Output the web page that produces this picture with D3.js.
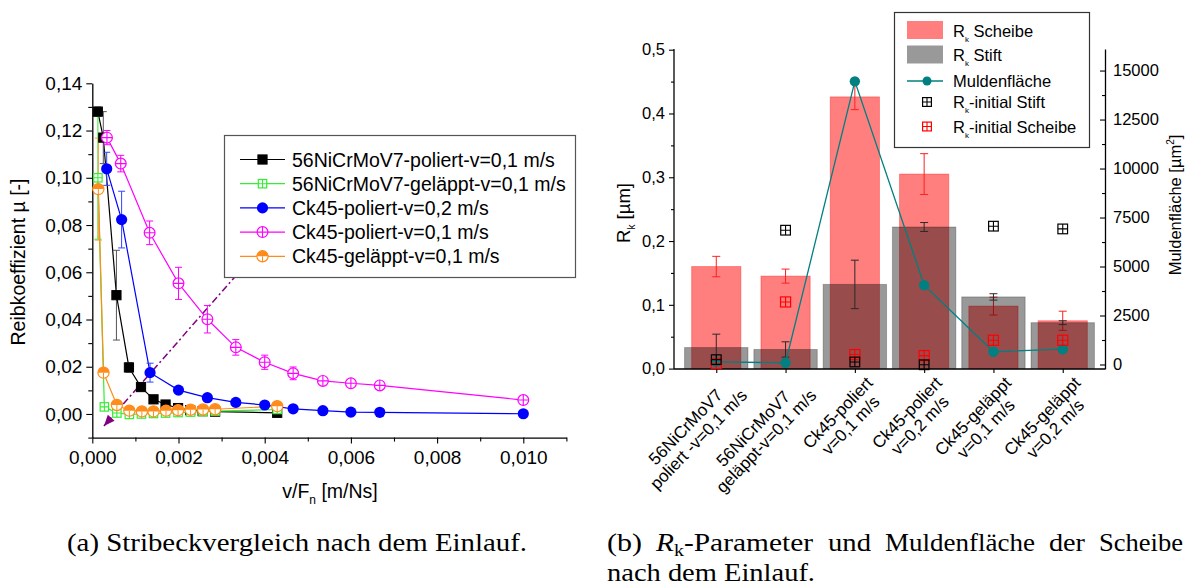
<!DOCTYPE html>
<html><head><meta charset="utf-8">
<script src="https://cdn.jsdelivr.net/npm/d3@7"></script>
<style>
body{margin:0;background:#fff}
svg{display:block}
text{font-family:"Liberation Sans",Arial,sans-serif;fill:#000}
</style>
</head><body>
<svg id="fig" width="1189" height="588"></svg>
<script>
// ---------- (a) Stribeck curves: x = v/Fn [m/Ns], y = friction coefficient ----------
const niPoliertX   = [0.000128,0.000255,0.00056,0.00085,0.00113,0.00142,0.0017,0.00199,0.00227,0.00256,0.00285,0.00429];
const niPoliertY   = [0.128,0.117,0.0503,0.0197,0.0114,0.0062,0.004,0.0025,0.0016,0.0012,0.001,0.0005];
const niPoliertErr = [0.002,0.011,0.019,0.002,0,0,0,0,0,0,0,0];

const niGelapptX   = [0.00013,0.00028,0.00057,0.00086,0.00114,0.00142,0.0017,0.00199,0.00228,0.00257,0.00285,0.00429];
const niGelapptY   = [0.1,0.003,0.0004,-0.0002,0.0,0.0002,0.0004,0.0006,0.0008,0.001,0.0012,0.0019];
const niGelapptErr = [0.026,0.001,0,0,0,0,0,0,0,0,0,0];

const ckPol02X   = [0.000334,0.00068,0.00134,0.002,0.00267,0.00333,0.004,0.00466,0.00535,0.006,0.00667,0.01];
const ckPol02Y   = [0.1038,0.0823,0.0175,0.0101,0.0069,0.0049,0.0038,0.0022,0.0014,0.0008,0.0007,0.0001];
const ckPol02Err = [0.007,0.012,0.004,0.0015,0.001,0.001,0.001,0.0005,0.0005,0.0005,0.0005,0.0005];

const ckPol01X   = [0.00034,0.00066,0.00133,0.002,0.00267,0.00333,0.004,0.00466,0.00535,0.006,0.00667,0.01];
const ckPol01Y   = [0.117,0.106,0.0767,0.0553,0.0401,0.0282,0.0219,0.0172,0.014,0.013,0.0121,0.0059];
const ckPol01Err = [0.003,0.0035,0.005,0.0068,0.0058,0.0033,0.003,0.0027,0.0012,0.001,0.001,0.001];

const ckGel01X   = [0.00014,0.00026,0.00057,0.00086,0.00115,0.00142,0.00171,0.00199,0.00228,0.00257,0.00285,0.00429];
const ckGel01Y   = [0.0952,0.0175,0.0038,0.0014,0.0011,0.0011,0.0014,0.0016,0.0018,0.0019,0.002,0.0033];
const ckGel01Err = [0.0216,0.001,0,0,0,0,0,0,0,0,0,0];

const stribeckNames = ["56NiCrMoV7-poliert-v=0,1 m/s","56NiCrMoV7-geläppt-v=0,1 m/s","Ck45-poliert-v=0,2 m/s","Ck45-poliert-v=0,1 m/s","Ck45-geläppt-v=0,1 m/s"];
const muTicks = [0,0.02,0.04,0.06,0.08,0.10,0.12,0.14];
const muMinor = [-0.01,0.01,0.03,0.05,0.07,0.09,0.11,0.13];
const vfTicks = [0,0.002,0.004,0.006,0.008,0.010];
const vfMinor = [0.001,0.003,0.005,0.007,0.009,0.011];
// trend arrow (from behind the legend down towards the origin)
const trendArrow = [[0.0045,0.0828],[0.00027,-0.0051]];

// ---------- (b) Rk parameters and trough area ----------
const specimens = [
  ["56NiCrMoV7","poliert -v=0,1 m/s"],
  ["56NiCrMoV7","geläppt-v=0,1 m/s"],
  ["Ck45-poliert","v=0,1 m/s"],
  ["Ck45-poliert","v=0,2 m/s"],
  ["Ck45-geläppt","v=0,1 m/s"],
  ["Ck45-geläppt","v=0,2 m/s"]
];
const rkScheibe     = [0.160,0.145,0.426,0.305,0.098,0.075];
const rkScheibeErr  = [0.016,0.011,0.020,0.032,0.014,0.015];
const rkStift       = [0.033,0.030,0.132,0.222,0.1124,0.072];
const rkStiftErr    = [0.021,0.012,0.038,0.007,0.005,0.003];
const muldenflaeche = [130,90,14450,4050,650,780];
const rkInitStift   = [0.014,0.217,0.0104,0.006,0.2233,0.219];
const rkInitScheibe = [0.008,0.1045,0.022,0.0204,0.0444,0.0444];
const rkTicks = [0,0.1,0.2,0.3,0.4,0.5];
const rkMinor = [0.05,0.15,0.25,0.35,0.45];
const mulTicks = [0,2500,5000,7500,10000,12500,15000];
const mulMinor = [1250,3750,6250,8750,11250,13750];

const svg = d3.select("#fig");
const comma = f => d => d3.format(f)(d).replace(".", ",");

function styleAxis(g, size) {
  g.attr("font-family", "Liberation Sans, Arial, sans-serif").attr("font-size", size);
  g.selectAll("path.domain").attr("stroke", "#000").attr("stroke-width", 1.3);
  g.selectAll(".tick line").attr("stroke", "#000").attr("stroke-width", 1.1);
  g.selectAll(".tick text").attr("fill", "#000");
}

// ---------- markers ----------
function marker(g, type, color, x, y, s, fill) {
  s = s || 1;
  fill = fill || "#fff";
  if (type === "square") {
    const h = 4.6 * s;
    g.append("rect").attr("x", x - h).attr("y", y - h).attr("width", 2 * h).attr("height", 2 * h)
      .attr("fill", color).attr("stroke", color).attr("stroke-width", 1);
  } else if (type === "squarePlus") {
    const h = 4.2 * s;
    g.append("rect").attr("x", x - h).attr("y", y - h).attr("width", 2 * h).attr("height", 2 * h)
      .attr("fill", fill).attr("stroke", color).attr("stroke-width", 1.2);
    g.append("path").attr("d", `M${x - h},${y}H${x + h}M${x},${y - h}V${y + h}`)
      .attr("stroke", color).attr("stroke-width", 1.1);
  } else if (type === "circle") {
    g.append("circle").attr("cx", x).attr("cy", y).attr("r", 5.6 * s).attr("fill", color);
  } else if (type === "circlePlus") {
    const r = 5.4 * s;
    g.append("circle").attr("cx", x).attr("cy", y).attr("r", r).attr("fill", fill)
      .attr("stroke", color).attr("stroke-width", 1.2);
    g.append("path").attr("d", `M${x - r},${y}H${x + r}M${x},${y - r}V${y + r}`)
      .attr("stroke", color).attr("stroke-width", 1.1);
  } else if (type === "half") {
    const r = 5.6 * s;
    g.append("circle").attr("cx", x).attr("cy", y).attr("r", r).attr("fill", "#fff")
      .attr("stroke", color).attr("stroke-width", 1.2);
    g.append("path").attr("d", `M${x - r},${y}A${r},${r} 0 0 1 ${x + r},${y}Z`).attr("fill", color);
    g.append("path").attr("d", `M${x},${y}V${y + r}`).attr("stroke", color).attr("stroke-width", 1);
  }
}

// ================= panel (a) =================
const xA = d3.scaleLinear().domain([0, 0.011]).range([92.3, 566.4]);
const yA = d3.scaleLinear().domain([-0.01, 0.14]).range([437.6, 83.3]);
const pa = svg.append("g");

const axB = pa.append("g").attr("transform", `translate(0,${yA.range()[0]})`);
axB.call(d3.axisBottom(xA).tickValues(vfTicks).tickSize(6).tickSizeOuter(0).tickPadding(7).tickFormat(comma(".3f")));
axB.append("g").call(d3.axisBottom(xA).tickValues(vfMinor).tickSize(4).tickSizeOuter(0).tickFormat(""))
  .select("path.domain").remove();
styleAxis(axB, 19);

const axL = pa.append("g").attr("transform", `translate(${xA.range()[0]},0)`);
axL.call(d3.axisLeft(yA).tickValues(muTicks).tickSize(6).tickSizeOuter(0).tickPadding(4).tickFormat(comma(".2f")));
axL.append("g").call(d3.axisLeft(yA).tickValues(muMinor).tickSize(4).tickSizeOuter(0).tickFormat(""))
  .select("path.domain").remove();
styleAxis(axL, 19);

pa.append("text").attr("transform", "translate(25,262) rotate(-90)").attr("text-anchor", "middle")
  .attr("font-size", 19.5).text("Reibkoeffizient µ [-]");
const xt = pa.append("text").attr("x", 330).attr("y", 498).attr("text-anchor", "middle").attr("font-size", 19.5);
xt.append("tspan").text("v/F");
xt.append("tspan").attr("font-size", 12).attr("dy", 6).text("n");
xt.append("tspan").attr("dy", -6).text(" [m/Ns]");

// trend arrow
const arrowPts = trendArrow.map(p => [xA(p[0]), yA(p[1])]);
pa.append("path").attr("d", d3.line()(arrowPts)).attr("fill", "none")
  .attr("stroke", "#800080").attr("stroke-width", 1.5).attr("stroke-dasharray", "7,3,2,3");
{
  const [p0, p1] = arrowPts;
  const ang = Math.atan2(p1[1] - p0[1], p1[0] - p0[0]);
  const L = 11, W = 4.5;
  const bx = p1[0] - L * Math.cos(ang), by = p1[1] - L * Math.sin(ang);
  pa.append("path").attr("d", `M${p1[0]},${p1[1]}L${bx - W * Math.sin(ang)},${by + W * Math.cos(ang)}L${bx + W * Math.sin(ang)},${by - W * Math.cos(ang)}Z`)
    .attr("fill", "#800080");
}

const stribeck = [
  {x: niPoliertX, y: niPoliertY, e: niPoliertErr, color: "#000000", err: "#555", m: "square"},
  {x: niGelapptX, y: niGelapptY, e: niGelapptErr, color: "#33ee33", err: "#33ee33", m: "squarePlus"},
  {x: ckPol02X,   y: ckPol02Y,   e: ckPol02Err,   color: "#0000ff", err: "#3344ff", m: "circle"},
  {x: ckPol01X,   y: ckPol01Y,   e: ckPol01Err,   color: "#ff00ff", err: "#ff00ff", m: "circlePlus"},
  {x: ckGel01X,   y: ckGel01Y,   e: ckGel01Err,   color: "#ff8c1a", err: "#ff9c3a", m: "half"}
];

const lineA = d3.line().x(d => xA(d[0])).y(d => yA(d[1]));
stribeck.forEach(s => {
  const pts = s.x.map((x, i) => [x, s.y[i]]);
  pa.append("path").attr("d", lineA(pts)).attr("fill", "none").attr("stroke", s.color).attr("stroke-width", 1.2);
});
stribeck.forEach(s => {
  const g = pa.append("g");
  s.x.forEach((x, i) => {
    if (!s.e[i]) return;
    const px = xA(x), t = yA(s.y[i] + s.e[i]), b = yA(s.y[i] - s.e[i]);
    g.append("path").attr("d", `M${px},${t}V${b}M${px - 3.5},${t}H${px + 3.5}M${px - 3.5},${b}H${px + 3.5}`)
      .attr("stroke", s.err).attr("stroke-width", 1).attr("fill", "none");
  });
});
stribeck.forEach(s => {
  const g = pa.append("g");
  s.x.forEach((x, i) => marker(g, s.m, s.color, xA(x), yA(s.y[i])));
});

// legend (a)
const lgA = pa.append("g");
lgA.append("rect").attr("x", 224.5).attr("y", 135.5).attr("width", 351).attr("height", 142)
  .attr("fill", "#fff").attr("stroke", "#555").attr("stroke-width", 1.2);
stribeck.forEach((s, i) => {
  const cy = 159.5 + i * 24.2;
  lgA.append("path").attr("d", `M240,${cy}H285`).attr("stroke", s.color).attr("stroke-width", 1.2);
  marker(lgA, s.m, s.color, 262.5, cy);
  lgA.append("text").attr("x", 292).attr("y", cy + 7).attr("font-size", 19.5).text(stribeckNames[i]);
});

// ================= panel (b) =================
const xB = d3.scalePoint().domain(d3.range(specimens.length)).range([674, 1105]).padding(0.61);
const yBL = d3.scaleLinear().domain([0, 0.5]).range([368.6, 49.7]);
const yBR = d3.scaleLinear().domain([-230, 16100]).range([369, 49]);
const step = xB.step();
const pb = svg.append("g");

// Scheibe bars (red, translucent)
const wRed = step * 0.71, wGray = step * 0.915;
pb.append("g").selectAll("rect").data(rkScheibe).join("rect")
  .attr("x", (d, i) => xB(i) - wRed / 2).attr("width", wRed)
  .attr("y", d => yBL(d)).attr("height", d => yBL(0) - yBL(d))
  .attr("fill", "rgba(255,0,0,0.5)").attr("stroke", "rgba(255,0,0,0.35)").attr("stroke-width", 1);
// Scheibe error bars
pb.append("g").selectAll("path").data(rkScheibe).join("path")
  .attr("d", (d, i) => {
    const px = xB(i), t = yBL(d + rkScheibeErr[i]), b = yBL(d - rkScheibeErr[i]);
    return `M${px},${t}V${b}M${px - 4},${t}H${px + 4}M${px - 4},${b}H${px + 4}`;
  }).attr("stroke", "#ff2020").attr("stroke-width", 1).attr("fill", "none");
// Stift bars (grey, translucent on top)
pb.append("g").selectAll("rect").data(rkStift).join("rect")
  .attr("x", (d, i) => xB(i) - wGray / 2).attr("width", wGray)
  .attr("y", d => yBL(d)).attr("height", d => yBL(0) - yBL(d))
  .attr("fill", "rgba(0,0,0,0.4)").attr("stroke", "rgba(0,0,0,0.25)").attr("stroke-width", 1);
pb.append("g").selectAll("path").data(rkStift).join("path")
  .attr("d", (d, i) => {
    const px = xB(i), t = yBL(d + rkStiftErr[i]), b = yBL(d - rkStiftErr[i]);
    return `M${px},${t}V${b}M${px - 4},${t}H${px + 4}M${px - 4},${b}H${px + 4}`;
  }).attr("stroke", "#2a2a2a").attr("stroke-width", 1).attr("fill", "none");

// axes (b)
const bB = pb.append("g").attr("transform", "translate(0,369)");
bB.call(d3.axisBottom(xB).tickSize(4).tickSizeOuter(0).tickFormat(""));
styleAxis(bB, 16);
bB.select("path.domain").attr("d", "M674,0H1105");

const bL = pb.append("g").attr("transform", "translate(674,0)");
bL.call(d3.axisLeft(yBL).tickValues(rkTicks).tickSize(5).tickSizeOuter(0).tickPadding(4).tickFormat(comma(".1f")));
bL.append("g").call(d3.axisLeft(yBL).tickValues(rkMinor).tickSize(3).tickSizeOuter(0).tickFormat(""))
  .select("path.domain").remove();
styleAxis(bL, 16.5);
bL.select("path.domain").attr("d", "M0,369V49");

const bR = pb.append("g").attr("transform", "translate(1105,0)");
bR.call(d3.axisRight(yBR).tickValues(mulTicks).tickSizeInner(-5).tickSizeOuter(0).tickPadding(8).tickFormat(d3.format("d")));
bR.append("g").call(d3.axisRight(yBR).tickValues(mulMinor).tickSizeInner(-3).tickSizeOuter(0).tickFormat(""))
  .select("path.domain").remove();
styleAxis(bR, 16.5);

// trough area line
const lineB = d3.line().x((d, i) => xB(i)).y(d => yBR(d));
pb.append("path").attr("d", lineB(muldenflaeche)).attr("fill", "none").attr("stroke", "#008080").attr("stroke-width", 1.3);
pb.append("g").selectAll("circle").data(muldenflaeche).join("circle")
  .attr("cx", (d, i) => xB(i)).attr("cy", d => yBR(d)).attr("r", 5.2).attr("fill", "#008080");

// initial Rk markers (open, so the bars show through)
const gi = pb.append("g");
rkInitScheibe.forEach((d, i) => marker(gi, "squarePlus", "#ff0000", xB(i), yBL(d), 1.2, "none"));
rkInitStift.forEach((d, i) => marker(gi, "squarePlus", "#000000", xB(i), yBL(d), 1.15, "none"));

// category labels, rotated two-line blocks
specimens.forEach((lines, i) => {
  const g = pb.append("g").attr("font-family", "Lato, 'Open Sans', sans-serif").attr("font-size", 17);
  const ts = lines.map((l, k) => g.append("text").attr("text-anchor", "middle").attr("fill", "#222")
    .attr("y", (k - 0.5) * 18 + 6).text(l));
  const maxLen = d3.max(ts, t => t.node().getComputedTextLength());
  ts.forEach(t => t.attr("x", -maxLen / 2));
  g.attr("transform", `translate(${xB(i) + 21},386) rotate(-46)`);
});

// y titles (b)
const tl = pb.append("text").attr("transform", "translate(630,213) rotate(-90)").attr("text-anchor", "middle").attr("font-size", 18.5);
tl.append("tspan").text("R");
tl.append("tspan").attr("font-size", 10).attr("dy", 5).text("k");
tl.append("tspan").attr("dy", -5).text(" [µm]");
const tr = pb.append("text").attr("transform", "translate(1181,205) rotate(-90)").attr("text-anchor", "middle").attr("font-size", 16.5);
tr.append("tspan").text("Muldenfläche [µm");
tr.append("tspan").attr("font-size", 10).attr("dy", -7).text("2");
tr.append("tspan").attr("dy", 7).text("]");

// legend (b)
const lgB = pb.append("g");
lgB.append("rect").attr("x", 894.5).attr("y", 12.5).attr("width", 195).attr("height", 135)
  .attr("fill", "#fff").attr("stroke", "#333").attr("stroke-width", 1.2);
lgB.append("rect").attr("x", 907).attr("y", 21).attr("width", 36).attr("height", 18).attr("fill", "rgba(255,0,0,0.5)");
lgB.append("rect").attr("x", 907).attr("y", 45.5).attr("width", 36).attr("height", 18).attr("fill", "rgba(0,0,0,0.4)");
lgB.append("path").attr("d", "M907,81H943").attr("stroke", "#008080").attr("stroke-width", 1.3);
lgB.append("circle").attr("cx", 927).attr("cy", 81).attr("r", 4.5).attr("fill", "#008080");
marker(lgB, "squarePlus", "#000", 927, 102, 1.05, "none");
marker(lgB, "squarePlus", "#ff0000", 927, 126.5, 1.05, "none");
const legB = [["R", "k", " Scheibe", 31], ["R", "k", " Stift", 55], ["Muldenfläche", "", "", 81], ["R", "k", "-initial Stift", 102], ["R", "k", "-initial Scheibe", 127]];
legB.forEach(([a, sub, b, cy]) => {
  const t = lgB.append("text").attr("x", 953).attr("y", cy + 6).attr("font-size", 16.5);
  t.append("tspan").text(a);
  if (sub) {
    t.append("tspan").attr("font-size", 8).attr("dy", 5).text(sub);
    t.append("tspan").attr("dy", -5).text(b);
  }
});

// ================= captions (justified lines) =================
const serif = "'Liberation Serif', serif";
const cap = svg.append("g").attr("font-size", 25);
const capLine = (txt, x, y, len) => cap.append("text").attr("x", x).attr("y", y)
  .attr("textLength", len).attr("lengthAdjust", "spacingAndGlyphs").style("font-family", serif).text(txt);
capLine("(a) Stribeckvergleich nach dem Einlauf.", 67, 551, 460);
const capWords = [["(b)", 607, 35], ["und", 828, 43], ["Muldenfläche", 885, 150], ["der", 1049, 36], ["Scheibe", 1099, 84]];
capWords.forEach(([w, x, len]) => capLine(w, x, 551, len));
const rk = cap.append("text").attr("x", 656).attr("y", 551).attr("textLength", 157).attr("lengthAdjust", "spacingAndGlyphs").style("font-family", serif);
rk.append("tspan").attr("font-style", "italic").text("R");
rk.append("tspan").attr("font-size", 17).attr("dy", 5).text("k");
rk.append("tspan").attr("dy", -5).text("-Parameter");
capLine("nach dem Einlauf.", 607, 581, 208);
</script>
</body></html>
